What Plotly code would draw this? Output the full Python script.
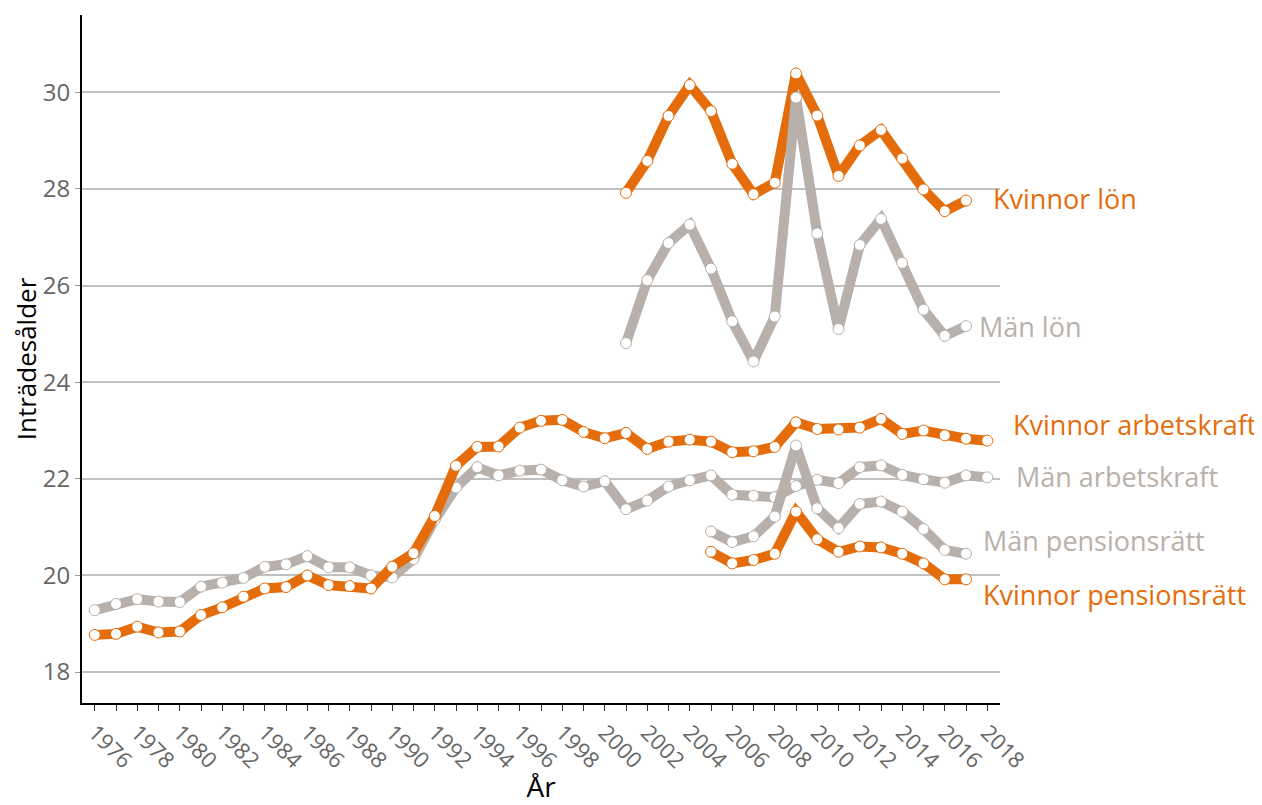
import plotly.graph_objects as go


YEARS_ALL = list(range(1976, 2019))
YEARS_LON = list(range(2001, 2018))
YEARS_PENSION = list(range(2005, 2018))

TICK_YEARS = list(range(1976, 2019, 2))

KVINNOR_ARBETSKRAFT = [
    18.77, 18.79, 18.94, 18.82, 18.84, 19.18, 19.34, 19.56, 19.73, 19.76,
    20.00, 19.80, 19.78, 19.73, 20.18, 20.46, 21.23, 22.27, 22.66, 22.67,
    23.06, 23.20, 23.22, 22.97, 22.84, 22.95, 22.62, 22.77, 22.81, 22.77,
    22.55, 22.57, 22.66, 23.17, 23.03, 23.02, 23.06, 23.24, 22.93, 23.00,
    22.90, 22.83, 22.79,
]

MAN_ARBETSKRAFT = [
    19.28, 19.41, 19.51, 19.46, 19.45, 19.77, 19.85, 19.95, 20.18, 20.23,
    20.40, 20.17, 20.17, 20.00, 19.96, 20.34, 21.15, 21.82, 22.24, 22.07,
    22.17, 22.19, 21.97, 21.84, 21.95, 21.37, 21.55, 21.84, 21.97, 22.07,
    21.67, 21.65, 21.62, 21.85, 21.98, 21.91, 22.24, 22.28, 22.08, 21.99,
    21.92, 22.07, 22.03,
]

KVINNOR_LON = [
    27.92, 28.58, 29.51, 30.15, 29.61, 28.52, 27.89, 28.13, 30.39, 29.52,
    28.27, 28.90, 29.22, 28.63, 27.99, 27.54, 27.76,
]

MAN_LON = [
    24.81, 26.11, 26.88, 27.26, 26.35, 25.26, 24.43, 25.36, 29.89, 27.08,
    25.10, 26.84, 27.38, 26.47, 25.50, 24.96, 25.16,
]

MAN_PENSIONSRATT = [
    20.91, 20.69, 20.81, 21.22, 22.69, 21.39, 20.98, 21.48, 21.53, 21.32,
    20.96, 20.53, 20.45,
]

KVINNOR_PENSIONSRATT = [
    20.49, 20.25, 20.32, 20.45, 21.32, 20.75, 20.49, 20.60, 20.58, 20.45,
    20.25, 19.92, 19.92,
]

ORANGE = "#E46C0A"
GRAY = "#B8B0AA"
FONT = "Open Sans"

# (namn, år, värden, färg, etikett-förskjutning x, y)
SERIES = [
    ("Män arbetskraft", YEARS_ALL, MAN_ARBETSKRAFT, GRAY, 27, 1),
    ("Kvinnor arbetskraft", YEARS_ALL, KVINNOR_ARBETSKRAFT, ORANGE, 24, 16),
    ("Kvinnor lön", YEARS_LON, KVINNOR_LON, ORANGE, 25, 2),
    ("Män lön", YEARS_LON, MAN_LON, GRAY, 11, 0),
    ("Män pensionsrätt", YEARS_PENSION, MAN_PENSIONSRATT, GRAY, 15, 13),
    ("Kvinnor pensionsrätt", YEARS_PENSION, KVINNOR_PENSIONSRATT, ORANGE, 15, -15),
]


fig = go.Figure()

for name, years, values, color, dx, dy in SERIES:

    fig.add_scatter(
        x=years,
        y=values,
        mode="lines+markers",
        name=name,
        line=dict(color=color, width=10),
        marker=dict(
            size=11,
            color="white",
            line=dict(color=color, width=1),
        ),
        showlegend=False,
    )

    fig.add_annotation(
        x=years[-1],
        y=values[-1],
        text=name,
        showarrow=False,
        xanchor="left",
        yanchor="middle",
        xshift=dx,
        yshift=dy,
        font=dict(family=FONT, size=27, color=color),
    )

# sidan har 8 px marginal runt figuren
fig.update_layout(
    width=1254,
    height=797,
    margin=dict(l=74, r=262, t=7, b=102),
    plot_bgcolor="white",
    paper_bgcolor="white",
    font=dict(family=FONT, color="#666666"),
)

fig.update_xaxes(
    range=[1975.4, 2018.6],
    tickvals=TICK_YEARS,
    tickangle=45,
    tickfont=dict(size=22, color="#666666"),
    ticks="outside",
    ticklen=6,
    tickcolor="#333333",
    minor=dict(dtick=1, ticks="outside", ticklen=6, tickcolor="#333333"),
    showgrid=False,
    zeroline=False,
    showline=True,
    linecolor="black",
    linewidth=2,
    title=dict(text="År", font=dict(size=28, color="black"), standoff=4),
)

fig.update_yaxes(
    range=[17.36, 31.6],
    dtick=2,
    tickfont=dict(size=24, color="#666666"),
    ticks="outside",
    ticklen=5,
    tickcolor="#999999",
    showgrid=True,
    gridcolor="#C0C0C0",
    gridwidth=1.5,
    zeroline=False,
    showline=True,
    linecolor="black",
    linewidth=2,
    title=dict(text="Inträdesålder", font=dict(size=26, color="black"), standoff=4),
)

fig.write_html("out.html")
